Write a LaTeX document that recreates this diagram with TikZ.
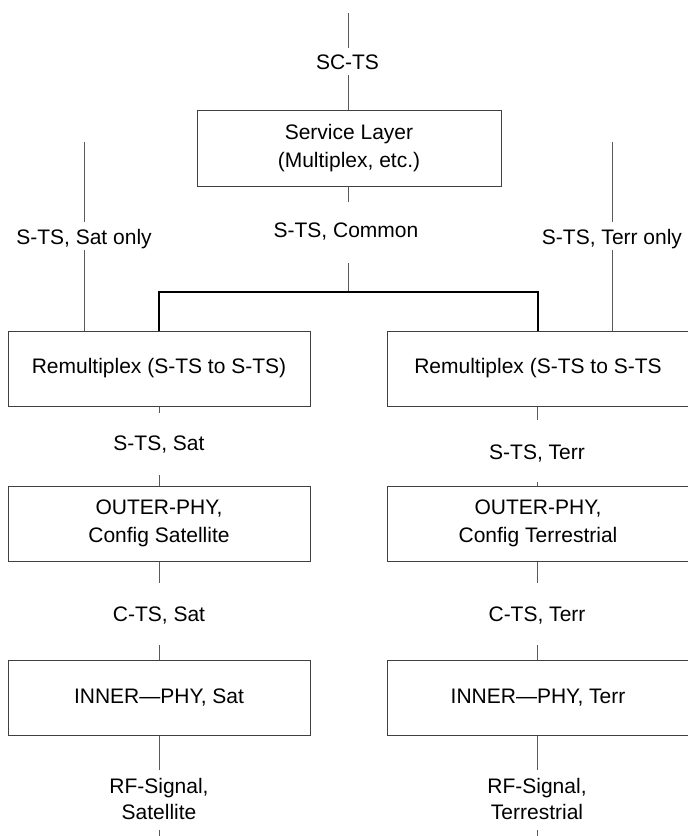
\documentclass[tikz,border=0pt]{standalone}
\usepackage{fontspec}
\setmainfont{Liberation Sans}
\begin{document}
\begin{tikzpicture}[x=1pt,y=-1pt,
  every node/.style={font=\fontsize{21}{28}\selectfont},
  box/.style={draw=black!75, line width=1pt, minimum width=302pt, minimum height=75pt, align=center, inner sep=0pt},
  lbl/.style={inner sep=0pt, text height=14.5pt, text depth=0pt},
  conn/.style={draw=black!65, line width=1pt},
  bar/.style={draw=black, line width=2pt}]
\useasboundingbox (0,0) rectangle (688,836);

% top
\coordinate (top) at (348,13);
\node[lbl] (sc) at (347.5,62) {SC-TS};
\node[box, minimum width=304pt, minimum height=76pt] (svc) at (349,148) {Service Layer\\(Multiplex, etc.)};
\node[lbl] (common) at (346,230) {S-TS, Common};
\coordinate (tj) at (348,292);

% side inputs
\coordinate (satTop) at (84,142);
\node[lbl] (satonly) at (84,237) {S-TS, Sat only};
\coordinate (terrTop) at (612,142);
\node[lbl] (terronly) at (612,237) {S-TS, Terr only};

% remultiplex
\node[box] (remL) at (159,368.5) {Remultiplex (S-TS to S-TS)};
\node[box] (remR) at (538,368.5) {Remultiplex (S-TS to S-TS};

% outer
\node[lbl] (stsSat) at (159,443) {S-TS, Sat};
\node[lbl] (stsTerr) at (537,452) {S-TS, Terr};
\node[box] (outL) at (159,523.5) {OUTER-PHY,\\Config Satellite};
\node[box] (outR) at (538,523.5) {OUTER-PHY,\\Config Terrestrial};

% inner
\node[lbl] (ctsSat) at (159,614) {C-TS, Sat};
\node[lbl] (ctsTerr) at (537,614) {C-TS, Terr};
\node[box] (inL) at (159,697.5) {INNER---PHY, Sat};
\node[box] (inR) at (538,697.5) {INNER---PHY, Terr};

% rf
\node[lbl] (rfS1) at (159,786) {RF-Signal,};
\node[lbl] (rfS2) at (159,812) {Satellite};
\node[lbl] (rfT1) at (537,786) {RF-Signal,};
\node[lbl] (rfT2) at (537,812) {Terrestrial};
\coordinate (botL) at (159,836);
\coordinate (botR) at (537,836);

% connectors
\draw[conn, shorten >=7pt] (top) -- (sc.north -| top);
\draw[conn, shorten <=6pt] (sc.south -| top) -- (svc.north -| top);
\draw[conn, shorten >=20.75pt] (svc.south -| top) -- (common.north -| top);
\draw[conn, shorten <=25.75pt] (common.south -| tj) -- (tj);
\draw[bar] (remL.north) |- (tj) -| (remR.north);

\draw[conn, shorten >=7.75pt] (satTop) -- (satonly.north);
\draw[conn, shorten <=5.75pt] (satonly.south) -- (satonly.south |- remL.north);
\draw[conn, shorten >=7.75pt] (terrTop) -- (terronly.north);
\draw[conn, shorten <=5.75pt] (terronly.south) -- (terronly.south |- remR.north);

\draw[conn, shorten >=22.75pt] (remL.south) -- (stsSat.north);
\draw[conn, shorten <=24.75pt] (stsSat.south) -- (outL.north);
\draw[conn, shorten >=24.75pt] (remR.south -| stsTerr) -- (stsTerr.north);
\draw[conn, shorten <=22.75pt] (stsTerr.south) -- (stsTerr.south |- outR.north);

\draw[conn, shorten >=23.75pt] (outL.south) -- (ctsSat.north);
\draw[conn, shorten <=23.75pt] (ctsSat.south) -- (inL.north);
\draw[conn, shorten >=23.75pt] (outR.south -| ctsTerr) -- (ctsTerr.north);
\draw[conn, shorten <=23.75pt] (ctsTerr.south) -- (ctsTerr.south |- inR.north);

\draw[conn, shorten >=8.75pt] (inL.south) -- (rfS1.north);
\draw[conn, shorten <=11pt] (rfS2.south) -- (botL);
\draw[conn, shorten >=8.75pt] (inR.south -| rfT1) -- (rfT1.north);
\draw[conn, shorten <=11pt] (rfT2.south) -- (botR);
\end{tikzpicture}
\end{document}
